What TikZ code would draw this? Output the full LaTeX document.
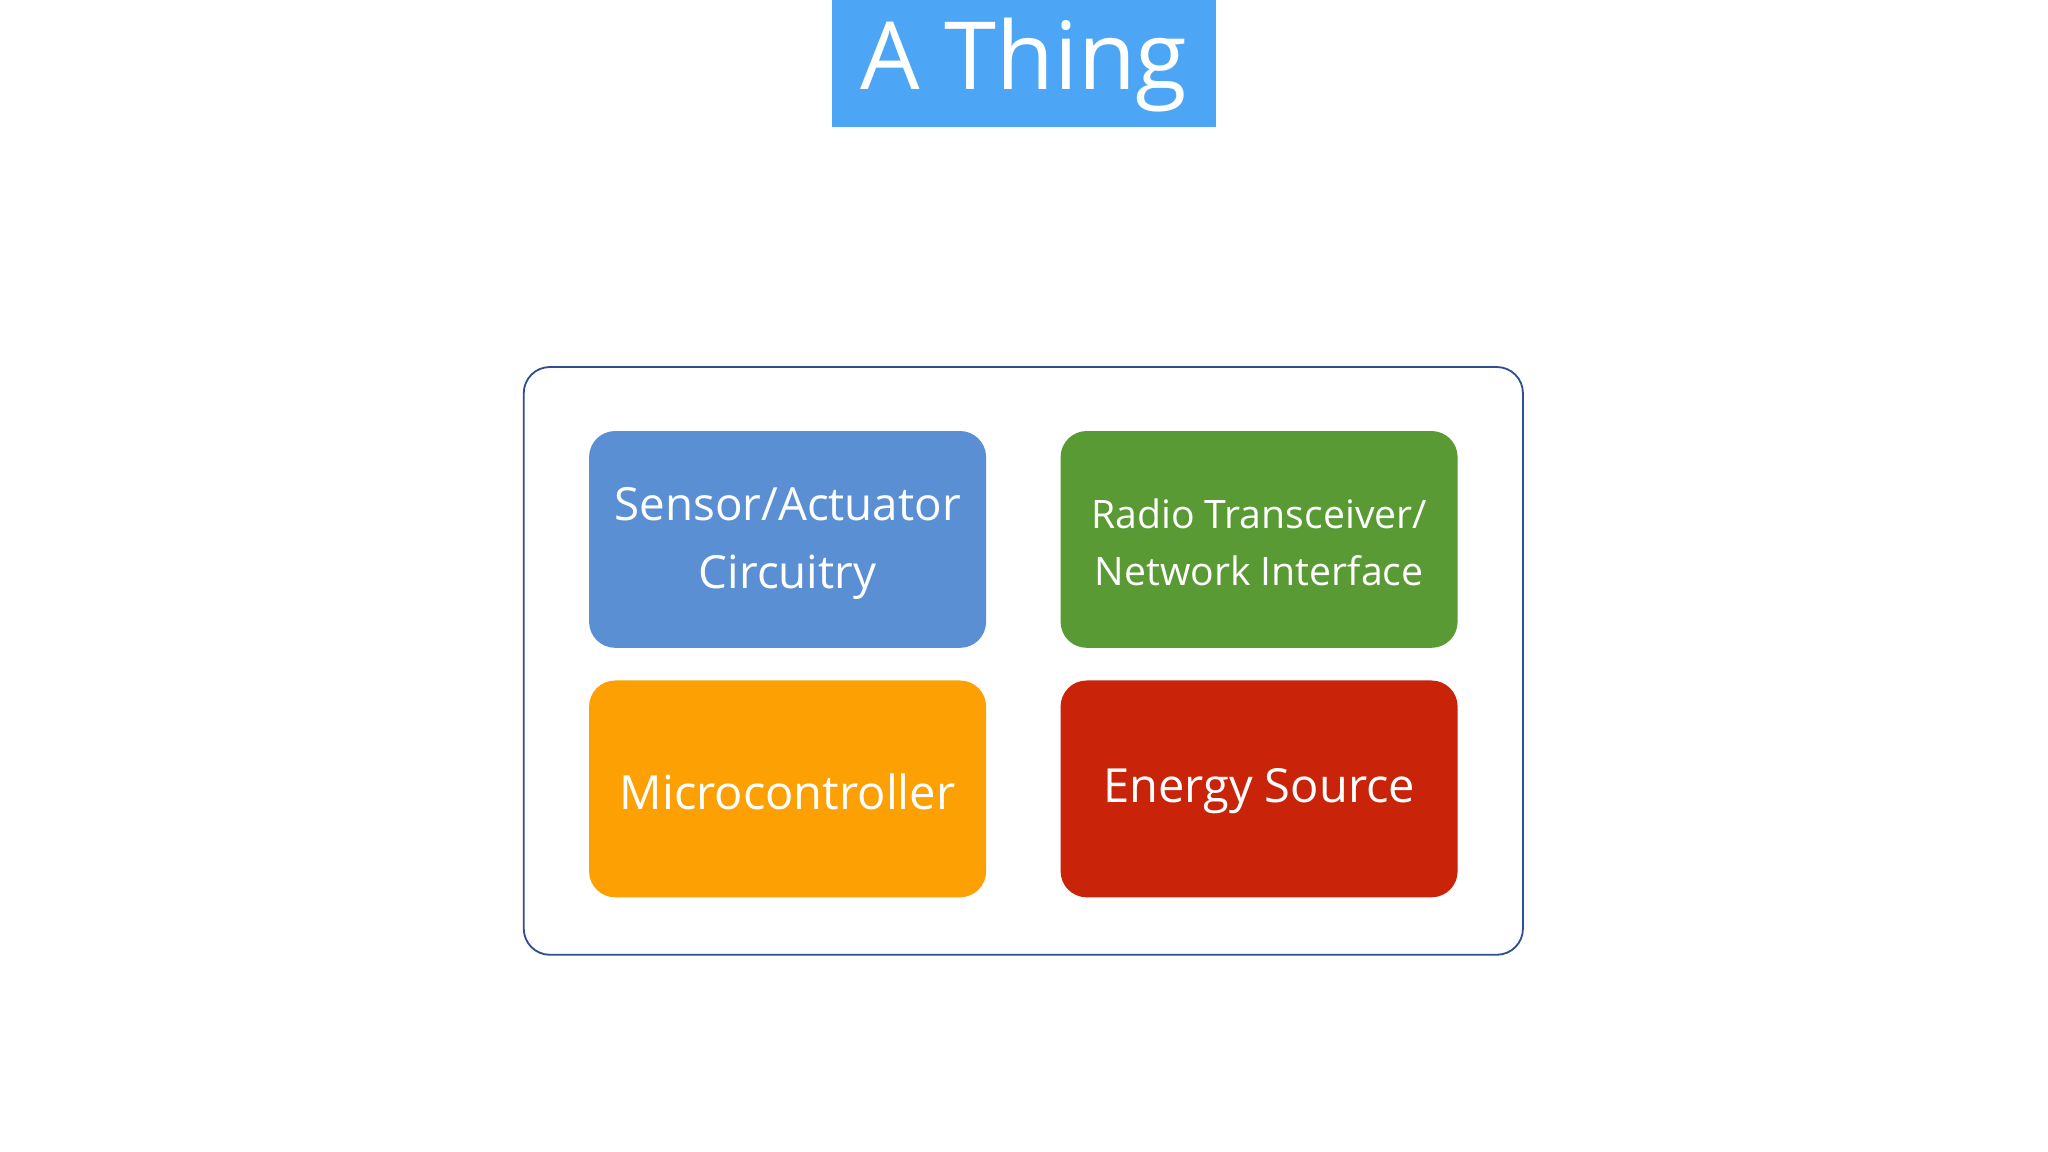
\documentclass[tikz,border=0pt]{standalone}
\usepackage{fontspec}
\setmainfont{Open Sans}
\definecolor{titleblue}{HTML}{4DA6F5}
\definecolor{frameblue}{HTML}{2F4F8F}
\definecolor{cblue}{HTML}{5B8FD4}
\definecolor{cgreen}{HTML}{5A9A35}
\definecolor{corange}{HTML}{FCA004}
\definecolor{cred}{HTML}{C9230A}
\begin{document}
\begin{tikzpicture}[x=0.5pt,y=-0.5pt,
  part/.style={rounded corners=10pt,text=white,align=center},
  frame/.style={draw=frameblue,line width=0.7pt,rounded corners=10pt}]
\useasboundingbox (0,0) rectangle (1568,882);
\fill[white] (0,0) rectangle (1568,882);
\fill[titleblue] (637,0) rectangle (931,97);
\node[text=white,font=\fontsize{36}{40}\selectfont] (title) at (784,50) {A Thing};
\draw[frame] (401,281) rectangle (1166,731);
\fill[part,cblue] (451,330) rectangle (755,496);
\node[text=white,align=center,font=\fontsize{17.5}{26}\selectfont] (s) at (603,416) {Sensor/Actuator\\Circuitry};
\fill[part,cgreen] (812,330) rectangle (1116,496);
\node[text=white,align=center,font=\fontsize{15}{22}\selectfont] (r) at (964,415) {Radio Transceiver/\\Network Interface};
\fill[part,corange] (451,521) rectangle (755,687);
\node[text=white,font=\fontsize{18}{22}\selectfont] (m) at (603,606) {Microcontroller};
\fill[part,cred] (812,521) rectangle (1116,687);
\node[text=white,font=\fontsize{18}{22}\selectfont] (e) at (964,606) {Energy Source};
\end{tikzpicture}
\end{document}
